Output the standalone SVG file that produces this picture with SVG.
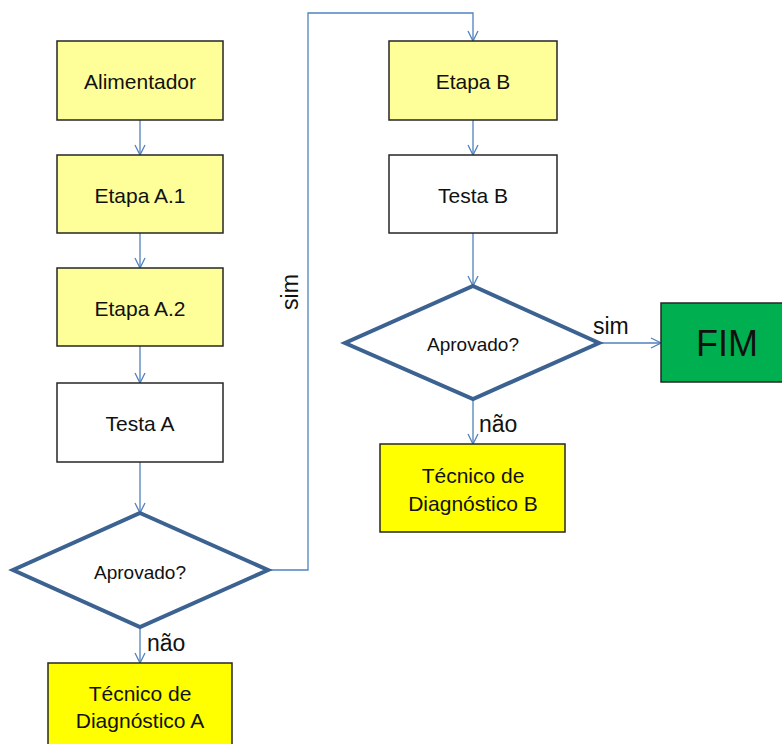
<svg xmlns="http://www.w3.org/2000/svg" width="782" height="744" viewBox="0 0 782 744">
<style>
.box{stroke:#262626;stroke-width:1.5}
.ly{fill:#ffff99}
.by{fill:#ffff00}
.wh{fill:#ffffff}
.dia{fill:#ffffff;stroke:#3b6291;stroke-width:4;stroke-linejoin:miter}
.t{font-family:"Liberation Sans",Arial,sans-serif;font-size:21px;fill:#111;text-anchor:middle;dominant-baseline:central}
.d{font-size:19px}
.lbl{font-family:"Liberation Sans",Arial,sans-serif;font-size:23px;fill:#111}
.e{fill:none;stroke:#4f81bd;stroke-width:1.3}
</style>
<defs>
<marker id="ar" viewBox="0 0 12 12" refX="11" refY="6" markerWidth="12" markerHeight="12" markerUnits="userSpaceOnUse" orient="auto">
<path d="M1,1 L11,6 L1,11" fill="none" stroke="#4f81bd" stroke-width="1.3"/>
</marker>
</defs>
<rect width="782" height="744" fill="#ffffff"/>
<g id="connectors">
<path class="e" d="M140,120 V155" marker-end="url(#ar)"/>
<path class="e" d="M140,233 V268" marker-end="url(#ar)"/>
<path class="e" d="M140,346 V383" marker-end="url(#ar)"/>
<path class="e" d="M140,462 V513" marker-end="url(#ar)"/>
<path class="e" d="M140,627 V663" marker-end="url(#ar)"/>
<path class="e" d="M268,570 H308 V13 H473 V41" marker-end="url(#ar)"/>
<path class="e" d="M473,120 V155" marker-end="url(#ar)"/>
<path class="e" d="M473,233 V286" marker-end="url(#ar)"/>
<path class="e" d="M599,343 H661" marker-end="url(#ar)"/>
<path class="e" d="M473,399 V444" marker-end="url(#ar)"/>
<text class="lbl" transform="translate(298,292) rotate(-90)" text-anchor="middle">sim</text>
<text class="lbl" x="147" y="651">não</text>
<text class="lbl" x="593" y="334">sim</text>
<text class="lbl" x="479" y="432">não</text>
</g>
<g id="alimentador"><rect class="box ly" x="57" y="41" width="166" height="79"/><text class="t" x="140" y="81">Alimentador</text></g>
<g id="etapaA1"><rect class="box ly" x="57" y="155" width="166" height="78"/><text class="t" x="140" y="195">Etapa A.1</text></g>
<g id="etapaA2"><rect class="box ly" x="57" y="268" width="166" height="78"/><text class="t" x="140" y="308">Etapa A.2</text></g>
<g id="testaA"><rect class="box wh" x="57" y="383" width="166" height="79"/><text class="t" x="140" y="423">Testa A</text></g>
<g id="aprovadoA"><polygon class="dia" points="140,513 268,570 140,627 13,570"/><text class="t d" x="140" y="572">Aprovado?</text></g>
<g id="tecnicoA"><rect class="box by" x="48" y="663" width="184" height="90"/><text class="t" x="140" y="693">Técnico de</text><text class="t" x="140" y="720">Diagnóstico A</text></g>
<g id="etapaB"><rect class="box ly" x="389" y="41" width="168" height="79"/><text class="t" x="473" y="81">Etapa B</text></g>
<g id="testaB"><rect class="box wh" x="389" y="155" width="168" height="78"/><text class="t" x="473" y="195">Testa B</text></g>
<g id="aprovadoB"><polygon class="dia" points="473,286 599,343 473,399 345,343"/><text class="t d" x="473" y="344">Aprovado?</text></g>
<g id="fim"><rect class="box" fill="#00b050" x="661" y="303" width="130" height="79"/><text class="t" style="font-size:36px" x="727" y="343">FIM</text></g>
<g id="tecnicoB"><rect class="box by" x="380" y="444" width="185" height="88"/><text class="t" x="473" y="475">Técnico de</text><text class="t" x="473" y="503">Diagnóstico B</text></g>
</svg>
